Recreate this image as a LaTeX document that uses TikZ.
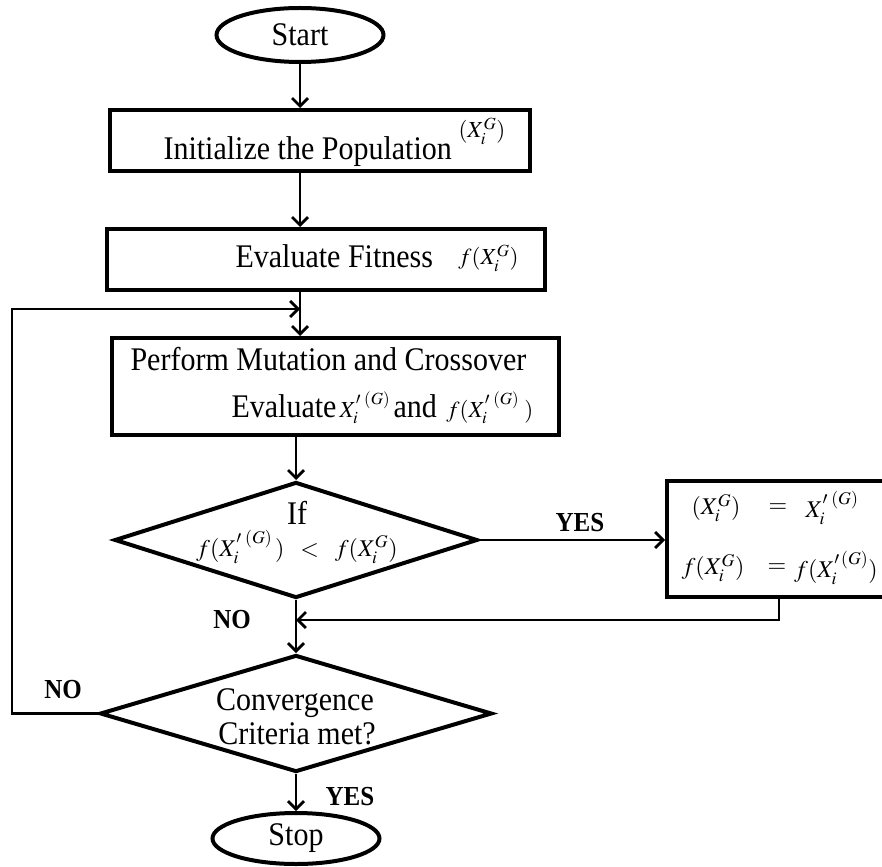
\documentclass[tikz,border=0pt]{standalone}
\usepackage{mathptmx}
\usepackage[no-math]{fontspec}
\setmainfont{Liberation Serif}
\usetikzlibrary{shapes.geometric,arrows.meta}
\newcommand\tall[1]{\scalebox{1}[1.1]{#1}}
\begin{document}
\begin{tikzpicture}[x=1pt,y=-1pt,
  every node/.style={font=\fontsize{30}{34}\selectfont},
  term/.style={draw, ellipse, line width=4pt, inner sep=0pt},
  proc/.style={draw, rectangle, line width=4pt, inner sep=0pt},
  dec/.style={draw, diamond, line width=4pt, inner sep=0pt},
  conn/.style={line width=2.8pt, -{Straight Barb[length=8pt,width=16pt,line width=2.8pt]}},
  lab/.style={font=\fontsize{25}{28}\selectfont\bfseries},
  mth/.style={font=\fontsize{24}{27}\selectfont},
  smth/.style={font=\fontsize{23}{26}\selectfont}]
\useasboundingbox (0,0) rectangle (882,866);
% shapes
\node[term, minimum width=167pt, minimum height=54pt] (start) at (300,35) {\tall{Start}};
\node[proc, minimum width=420pt, minimum height=61pt] (b1) at (320,140.5) {};
\node[proc, minimum width=438pt, minimum height=61pt] (b2) at (326,259.5) {};
\node[proc, minimum width=447pt, minimum height=97pt] (b3) at (335.5,386.5) {};
\node[dec, minimum width=363pt, minimum height=116pt] (d1) at (296,540) {};
\node[proc, minimum width=233pt, minimum height=116pt] (b4) at (783.5,539) {};
\node[dec, minimum width=392pt, minimum height=117pt] (d2) at (296,713.5) {};
\node[term, minimum width=167pt, minimum height=51pt] (stop) at (296,838.5) {\tall{Stop}};
% texts
\node[anchor=base west] (t1) at (160,160) {\tall{Initialize the Population}};
\node[smth, anchor=west] (t1m) at (455,131) {$(X_i^G)$};
\node[anchor=base west] (t2) at (232,268) {\tall{Evaluate Fitness}};
\node[smth, anchor=west] (t2m) at (455,258) {$f(X_i^G)$};
\node[anchor=base west] (t3a) at (127,370) {\tall{Perform Mutation and Crossover}};
\node[anchor=base west] (t3b) at (228,417) {\tall{Evaluate}};
\node[smth, anchor=base west] (t3c) at (336,417) {$X_i^{\prime\;(G)}$};
\node[anchor=base west] (t3d) at (390,417) {\tall{and}};
\node[smth, anchor=base west] (t3e) at (443,417) {$f(X_i^{\prime\;(G)}\;)$};
\node (t4a) at (297,513) {\tall{If}};
\node[mth] (t4b) at (297,547) {$f(X_i^{\prime\;(G)}\,)\;\;<\;\;f(X_i^G)$};
\node[mth] (t5a) at (716,508) {$(X_i^G)$};
\node[mth] (t5b) at (778,508) {$=$};
\node[mth] (t5c) at (832,508) {$X_i^{\prime\;(G)}$};
\node[mth] (t5d) at (713,568) {$f(X_i^G)$};
\node[mth] (t5e) at (777,568) {$=$};
\node[mth] (t5f) at (836,568) {$f(X_i^{\prime\,(G)})$};
\node (t6a) at (295,703) {\tall{Convergence}};
\node (t6b) at (297,734) {\tall{Criteria met?}};
% labels
\node[lab] (yes1) at (580,523) {\tall{YES}};
\node[lab] (no1) at (232,620) {\tall{NO}};
\node[lab] (no2) at (63,690) {\tall{NO}};
\node[lab] (yes2) at (350,797) {\tall{YES}};
% connectors
\coordinate (lc) at (12,309);
\coordinate (rc) at (779,620);
\draw[conn] (start.south) -- (start.south |- b1.north);
\draw[conn] (b1.south -| start) -- (b2.north -| start);
\draw[conn] (b2.south -| start) -- (b3.north -| start);
\draw[conn] (d2.west) -| (lc) -- (lc -| start);
\draw[conn] (b3.south -| d1) -- (d1.north);
\draw[conn] (d1.east) -- (b4.west |- d1.east);
\draw[conn] (b4.south -| rc) -- (rc) -- (rc -| d1.south);
\draw[conn] (d1.south) -- (d2.north);
\draw[conn] (d2.south) -- (stop.north);
\end{tikzpicture}
\end{document}
